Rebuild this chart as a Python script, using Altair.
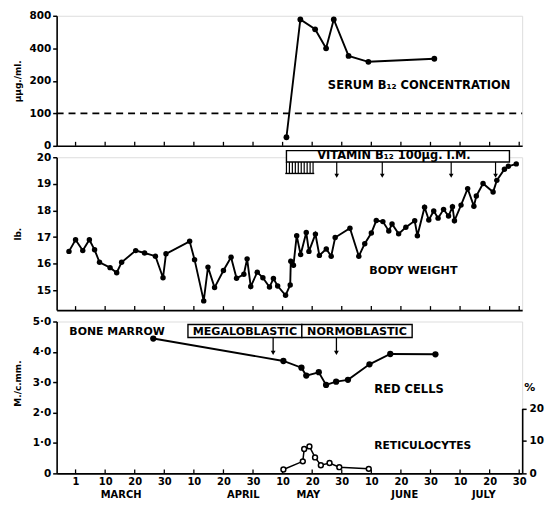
import math
import altair as alt
import pandas as pd

FONT = "DejaVu Sans"

# x unit: "chart day", 0 = 1 March, one labelled tick every 10 units
TICK_VALUES = list(range(0, 151, 10))
TICK_LABELS = ["1", "10", "20", "30", "10", "20", "30", "10", "20", "30",
               "10", "20", "30", "10", "20", "30"]
MONTHS = ["MARCH", "APRIL", "MAY", "JUNE", "JULY"]
MONTH_X = [15.4, 56.7, 78.7, 111.3, 138.0]

# Serum B12 (µµg./ml.)
SERUM_DAY = [71.3, 76.0, 81.0, 84.7, 87.3, 92.3, 99.0, 121.3]
SERUM_VAL = [60, 740, 600, 400, 740, 340, 300, 320]
SERUM_TICKS = [0, 100, 200, 400, 800]

# Body weight (lb.)
WEIGHT_DAY = [-2.23, 0.0, 2.43, 4.67, 6.43, 8.1, 11.67, 13.9, 15.57, 20.33,
              23.33, 27.0, 29.57, 30.57, 38.57, 40.23, 43.33, 44.77, 47.0, 50.0,
              52.57, 54.43, 56.9, 58.0, 59.23, 61.43, 63.33, 65.57, 66.9, 68.33,
              71.0, 72.57, 72.77, 73.67, 74.77, 76.1, 78.0, 78.9, 81.1, 82.43,
              84.77, 86.43, 87.77, 92.77, 95.77, 97.77, 100.0, 101.67, 103.9, 105.9,
              107.0, 109.23, 111.67, 114.67, 115.57, 118.0, 119.43, 121.1, 122.57, 124.43,
              126.1, 127.43, 128.1, 130.33, 132.57, 134.67, 135.5, 137.77, 141.17, 142.43,
              145.0, 146.33, 149.0]
WEIGHT_LB = [16.46, 16.90, 16.49, 16.90, 16.52, 16.05, 15.85, 15.66, 16.05, 16.49,
             16.40, 16.28, 15.47, 16.37, 16.84, 16.15, 14.60, 15.87, 15.10, 15.74,
             16.24, 15.45, 15.60, 16.18, 15.14, 15.68, 15.47, 15.12, 15.44, 15.16,
             14.81, 15.20, 16.09, 15.94, 17.05, 16.34, 17.17, 16.46, 17.11, 16.31,
             16.55, 16.28, 16.98, 17.33, 16.28, 16.75, 17.15, 17.62, 17.58, 17.23,
             17.49, 17.12, 17.37, 17.61, 17.05, 18.12, 17.64, 17.98, 17.71, 18.04,
             17.79, 18.14, 17.61, 18.20, 18.82, 18.16, 18.54, 19.01, 18.69, 19.13,
             19.55, 19.66, 19.75]

# Red cells (M./c.mm.)
RBC_DAY = [26.27, 70.27, 76.37, 78.0, 82.23, 84.7, 88.1, 92.1, 99.37, 106.4, 121.67]
RBC_VAL = [4.44, 3.70, 3.48, 3.22, 3.33, 2.91, 3.02, 3.08, 3.59, 3.93, 3.92]

# Reticulocytes (%)
RETIC_DAY = [70.27, 76.83, 77.3, 79.07, 80.97, 82.93, 85.87, 89.17, 99.13]
RETIC_PCT = [1.2, 3.7, 7.5, 8.3, 4.9, 2.5, 3.2, 1.9, 1.4]

# Treatment: vitamin B12 100 µg i.m.
VIT_START, VIT_END = 71.3, 146.7
DAILY_INJ = [71.3 + k for k in range(10)]
WEEKLY_INJ = [88.3, 103.7, 127.0, 142.0]

# Bone marrow
MARROW_LABELS = ["MEGALOBLASTIC", "NORMOBLASTIC"]
MARROW_FROM = [38.0, 76.5]
MARROW_TO = [76.5, 113.8]
MARROW_SAMPLES = [66.8, 88.2]

X_DOMAIN = [-6.4, 151.0]
W = 469
H1, H2, H3 = 131, 154, 153
BLK = "black"

xs = alt.Scale(domain=X_DOMAIN, nice=False, zero=False)
LBL_EXPR = str(TICK_LABELS).replace('"', "'") + "[round(datum.value/10)]"

AX_PLAIN = alt.Axis(values=TICK_VALUES, ticks=False, tickSize=0, labels=False,
                    domainColor=BLK, domainWidth=1.6, title=None, grid=False)
AX_LABELLED = alt.Axis(values=TICK_VALUES, ticks=False, tickSize=0, labelPadding=3,
                       labelExpr=LBL_EXPR, labelFont=FONT, labelFontWeight="bold",
                       labelFontSize=10, labelColor=BLK, labelFlush=False,
                       labelOverlap=False, domainColor=BLK, domainWidth=1.6,
                       title=None, grid=False)


def txt(**kw):
    base = dict(font=FONT, fontWeight="bold", fontSize=11, color=BLK)
    base.update(kw)
    return base


def yaxis(values, expr, title, titleY=None):
    kw = dict(values=values, labelExpr=expr, title=title, titleX=-34,
              titleFont=FONT, titleFontWeight="bold", titleFontSize=9,
              titleColor=BLK, labelFont=FONT, labelFontWeight="bold",
              labelFontSize=10.5, labelColor=BLK, tickColor=BLK, tickSize=4,
              tickWidth=1.5, domainColor=BLK, domainWidth=1.6, grid=False,
              labelPadding=2, labelOverlap=False, labelFlush=False)
    if titleY is not None:
        kw["titleY"] = titleY
    return alt.Axis(**kw)


def panel(xaxis, yscale, yax, h):
    def X(field="x"):
        return alt.X(f"{field}:Q", scale=xs, axis=xaxis)

    def Y(field="y"):
        return alt.Y(f"{field}:Q", scale=yscale, axis=yax)

    def ticks():
        return alt.Chart(pd.DataFrame({"x": TICK_VALUES})).mark_rule(
            color=BLK, strokeWidth=1.3).encode(x=X(), y=alt.value(h), y2=alt.value(h - 4))
    return X, Y, ticks


# ---------------- top panel: serum B12 ----------------
serum_pos = [math.log2(v / 50) for v in SERUM_VAL]
serum_tick_pos = [0.0] + [math.log2(v / 50) for v in SERUM_TICKS[1:]]
s_labels = str([str(v) for v in SERUM_TICKS]).replace('"', "'")
ys1 = alt.Scale(domain=[0, 4], nice=False, zero=False)
X1, Y1, T1 = panel(AX_PLAIN, ys1,
                   yaxis(serum_tick_pos, s_labels + "[round(datum.value)]", "µµg./ml."), H1)

serum_df = pd.DataFrame({"x": SERUM_DAY, "y": serum_pos})
top = alt.layer(
    alt.Chart(pd.DataFrame({"x": [X_DOMAIN[0]], "x2": [X_DOMAIN[1]], "y": [math.log2(100 / 50)]}))
    .mark_rule(color=BLK, strokeWidth=1.8, strokeDash=[7, 5])
    .encode(x=X1(), x2=alt.X2("x2:Q"), y=Y1()),
    alt.Chart(serum_df).mark_line(color=BLK, strokeWidth=1.9).encode(x=X1(), y=Y1()),
    alt.Chart(serum_df).mark_point(filled=True, color=BLK, size=34, opacity=1).encode(x=X1(), y=Y1()),
    alt.Chart(pd.DataFrame({"x": [85.3], "y": [1.846], "t": ["SERUM  B₁₂  CONCENTRATION"]}))
    .mark_text(align="left", baseline="middle", **txt(fontSize=11.6)).encode(x=X1(), y=Y1(), text="t:N"),
    T1(),
).properties(width=W, height=H1)

# ---------------- middle panel: body weight ----------------
ys2 = alt.Scale(domain=[14.254, 20], nice=False, zero=False)
X2_, Y2, T2 = panel(AX_PLAIN, ys2,
                    yaxis([15, 16, 17, 18, 19, 20], "format(datum.value, 'd')", "lb."), H2)

w_df = pd.DataFrame({"x": WEIGHT_DAY, "y": WEIGHT_LB})
BOX_LO, BOX_HI = 19.82, 20.25
hatch_df = pd.DataFrame({"x": DAILY_INJ, "y": [BOX_LO] * len(DAILY_INJ), "y2": [19.39] * len(DAILY_INJ)})
weekly_df = pd.DataFrame({"x": WEEKLY_INJ, "y": [BOX_LO] * 4, "y2": [19.30] * 4})
mid = alt.layer(
    alt.Chart(w_df).mark_line(color=BLK, strokeWidth=1.9).encode(x=X2_(), y=Y2()),
    alt.Chart(w_df).mark_point(filled=True, color=BLK, size=30, opacity=1).encode(x=X2_(), y=Y2()),
    alt.Chart(pd.DataFrame({"x": [VIT_START], "x2": [VIT_END], "y": [BOX_LO], "y2": [BOX_HI]}))
    .mark_rect(fill="white", stroke=BLK, strokeWidth=1.4)
    .encode(x=X2_(), x2=alt.X2("x2:Q"), y=Y2(), y2=alt.Y2("y2:Q")),
    alt.Chart(pd.DataFrame({"x": [81.7], "y": [20.035], "t": ["VITAMIN  B₁₂ 100µg. I.M."]}))
    .mark_text(align="left", baseline="middle", **txt(fontSize=11.5)).encode(x=X2_(), y=Y2(), text="t:N"),
    alt.Chart(hatch_df).mark_rule(color=BLK, strokeWidth=1.2).encode(x=X2_(), y=Y2(), y2=alt.Y2("y2:Q")),
    alt.Chart(pd.DataFrame({"x": [DAILY_INJ[0] - 0.4], "x2": [DAILY_INJ[-1] + 0.4], "y": [19.39]}))
    .mark_rule(color=BLK, strokeWidth=1.4).encode(x=X2_(), x2=alt.X2("x2:Q"), y=Y2()),
    alt.Chart(weekly_df).mark_rule(color=BLK, strokeWidth=1.2).encode(x=X2_(), y=Y2(), y2=alt.Y2("y2:Q")),
    alt.Chart(weekly_df).mark_point(shape="triangle-down", filled=True, color=BLK, size=22, opacity=1)
    .encode(x=X2_(), y=Y2("y2")),
    alt.Chart(pd.DataFrame({"x": [99.3], "y": [15.71], "t": ["BODY  WEIGHT"]}))
    .mark_text(align="left", baseline="middle", **txt(fontSize=11.2)).encode(x=X2_(), y=Y2(), text="t:N"),
    T2(),
).properties(width=W, height=H2)

# ---------------- bottom panel: red cells & reticulocytes ----------------
ys3 = alt.Scale(domain=[0, 5], nice=False, zero=False)
X3, Y3, T3 = panel(AX_LABELLED, ys3,
                   yaxis([0, 1, 2, 3, 4, 5],
                         "datum.value == 0 ? '0' : replace(format(datum.value, '.1f'), '.', '·')",
                         "M./c.mm.", titleY=62), H3)

rbc_df = pd.DataFrame({"x": RBC_DAY, "y": RBC_VAL})
marrow_df = pd.DataFrame({"x": MARROW_FROM, "x2": MARROW_TO, "y": [4.475] * 2, "y2": [4.90] * 2,
                          "xc": [(a + b) / 2 for a, b in zip(MARROW_FROM, MARROW_TO)],
                          "yc": [4.67] * 2, "t": MARROW_LABELS})
m_arrow = pd.DataFrame({"x": MARROW_SAMPLES, "y": [4.475] * 2, "y2": [3.97] * 2})
month_df = pd.DataFrame({"x": MONTH_X, "y": [-0.70] * 5, "t": MONTHS})

left3 = alt.layer(
    alt.Chart(rbc_df).mark_line(color=BLK, strokeWidth=1.9).encode(x=X3(), y=Y3()),
    alt.Chart(rbc_df).mark_point(filled=True, color=BLK, size=40, opacity=1).encode(x=X3(), y=Y3()),
    alt.Chart(pd.DataFrame({"x": [-2.1], "y": [4.67], "t": ["BONE  MARROW"]}))
    .mark_text(align="left", baseline="middle", **txt()).encode(x=X3(), y=Y3(), text="t:N"),
    alt.Chart(marrow_df).mark_rect(fill="white", stroke=BLK, strokeWidth=1.4)
    .encode(x=X3(), x2=alt.X2("x2:Q"), y=Y3(), y2=alt.Y2("y2:Q")),
    alt.Chart(marrow_df).mark_text(align="center", baseline="middle", **txt(fontSize=11.2))
    .encode(x=X3("xc"), y=Y3("yc"), text="t:N"),
    alt.Chart(m_arrow).mark_rule(color=BLK, strokeWidth=1.3).encode(x=X3(), y=Y3(), y2=alt.Y2("y2:Q")),
    alt.Chart(m_arrow).mark_point(shape="triangle-down", filled=True, color=BLK, size=24, opacity=1)
    .encode(x=X3(), y=Y3("y2")),
    alt.Chart(pd.DataFrame({"x": [101.0], "y": [2.74], "t": ["RED  CELLS"]}))
    .mark_text(align="left", baseline="middle", **txt(fontSize=11.6)).encode(x=X3(), y=Y3(), text="t:N"),
    alt.Chart(pd.DataFrame({"x": [101.0], "y": [0.90], "t": ["RETICULOCYTES"]}))
    .mark_text(align="left", baseline="middle", **txt(fontSize=10.8)).encode(x=X3(), y=Y3(), text="t:N"),
    alt.Chart(month_df).mark_text(align="center", baseline="middle", **txt(fontSize=10))
    .encode(x=X3(), y=Y3(), text="t:N"),
    T3(),
)

retic_scale = alt.Scale(domain=[0, 20], range=[H3, H3 - 65.5], nice=False, zero=False)
retic_axis = alt.Axis(orient="right", values=[0, 10, 20], title="%", titleAngle=0,
                      titleX=7, titleY=67, titleAlign="center", titleBaseline="middle",
                      titleFont=FONT, titleFontWeight="bold", titleFontSize=11, titleColor=BLK,
                      labelFont=FONT, labelFontWeight="bold", labelFontSize=10.5,
                      labelColor=BLK, tickColor=BLK, tickSize=4, tickWidth=1.5,
                      domainColor=BLK, domainWidth=1.6, grid=False, labelPadding=3,
                      labelOverlap=False, labelFlush=False)
r_df = pd.DataFrame({"x": RETIC_DAY, "p": RETIC_PCT})
RY = alt.Y("p:Q", scale=retic_scale, axis=retic_axis)
right3 = alt.layer(
    alt.Chart(r_df).mark_line(color=BLK, strokeWidth=1.5).encode(x=X3(), y=RY),
    alt.Chart(r_df).mark_point(shape="circle", filled=True, fill="white", stroke=BLK,
                               strokeWidth=1.5, size=24, opacity=1).encode(x=X3(), y=RY),
)

bottom = alt.layer(left3, right3).resolve_scale(y="independent").properties(width=W, height=H3)

chart = alt.vconcat(top, mid, bottom, spacing=11.5, bounds="flush").properties(
    padding={"left": 5, "top": 0, "right": 0, "bottom": 0}
).configure_view(stroke=None).configure(background="white")

chart.save("out.html", embed_options={"renderer": "svg", "actions": False})
